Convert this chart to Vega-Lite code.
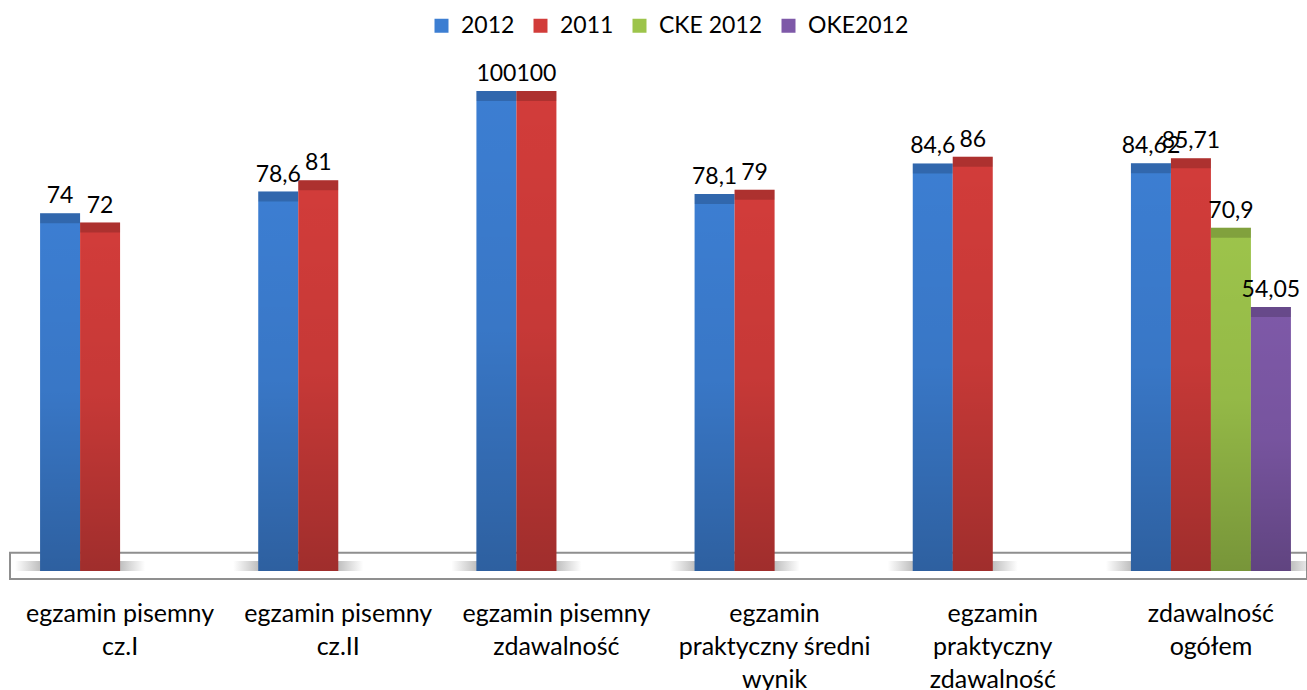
{
  "$schema": "https://vega.github.io/schema/vega-lite/v6.json",
  "width": 1297,
  "height": 470,
  "autosize": {"type": "none"},
  "padding": {"left": 10, "top": 91, "right": 0, "bottom": 129},
  "background": "white",
  "config": {
    "view": {"stroke": null},
    "font": "Lato",
    "locale": {"number": {"decimal": ",", "thousands": " ", "grouping": [3], "currency": ["", " zł"]}}
  },
  "data": {
    "values": [
      {"cat": "egzamin pisemny cz.I", "series": "2012", "value": 74},
      {"cat": "egzamin pisemny cz.I", "series": "2011", "value": 72},
      {"cat": "egzamin pisemny cz.II", "series": "2012", "value": 78.6},
      {"cat": "egzamin pisemny cz.II", "series": "2011", "value": 81},
      {"cat": "egzamin pisemny zdawalność", "series": "2012", "value": 100},
      {"cat": "egzamin pisemny zdawalność", "series": "2011", "value": 100},
      {"cat": "egzamin praktyczny średni wynik", "series": "2012", "value": 78.1},
      {"cat": "egzamin praktyczny średni wynik", "series": "2011", "value": 79},
      {"cat": "egzamin praktyczny zdawalność", "series": "2012", "value": 84.6},
      {"cat": "egzamin praktyczny zdawalność", "series": "2011", "value": 86},
      {"cat": "zdawalność ogółem", "series": "2012", "value": 84.62},
      {"cat": "zdawalność ogółem", "series": "2011", "value": 85.71},
      {"cat": "zdawalność ogółem", "series": "CKE 2012", "value": 70.9},
      {"cat": "zdawalność ogółem", "series": "OKE2012", "value": 54.05}
    ]
  },
  "layer": [
    {
      "data": {"values": [{}]},
      "mark": {"type": "rect", "fill": "white", "stroke": "#8f8f8f", "strokeWidth": 2},
      "encoding": {
        "y": {"datum": 1.77, "type": "quantitative", "scale": {"domain": [0, 100], "zero": false, "nice": false}, "axis": null},
        "y2": {"datum": -3.83}
      }
    },
    {
      "mark": {
        "type": "tick", "orient": "horizontal", "size": 90, "thickness": 10, "yOffset": 5,
        "color": {"gradient": "linear", "x1": 0, "y1": 0, "x2": 1, "y2": 0,
          "stops": [
            {"offset": 0, "color": "rgba(120,120,120,0)"},
            {"offset": 0.35, "color": "rgba(120,120,120,0.85)"},
            {"offset": 0.65, "color": "rgba(120,120,120,0.85)"},
            {"offset": 1, "color": "rgba(120,120,120,0)"}
          ]}
      },
      "encoding": {
        "x": {
          "field": "cat", "type": "nominal", "sort": null,
          "scale": {"range": [1, 1310], "paddingInner": 0.2667, "paddingOuter": 0.1333},
          "axis": {
            "title": null, "domain": false, "ticks": false, "labelAngle": 0,
            "labelFontSize": 25, "labelColor": "black", "labelLineHeight": 33,
            "labelBaseline": "top", "labelPadding": 40, "labelLimit": 300,
            "labelExpr": "datum.label == 'egzamin pisemny cz.I' ? ['egzamin pisemny','cz.I'] : datum.label == 'egzamin pisemny cz.II' ? ['egzamin pisemny','cz.II'] : datum.label == 'egzamin pisemny zdawalność' ? ['egzamin pisemny','zdawalność'] : datum.label == 'egzamin praktyczny średni wynik' ? ['egzamin','praktyczny średni','wynik'] : datum.label == 'egzamin praktyczny zdawalność' ? ['egzamin','praktyczny','zdawalność'] : ['zdawalność','ogółem']"
          }
        },
        "xOffset": {"field": "series", "type": "nominal", "scale": {"domain": ["2012", "2011", "CKE 2012", "OKE2012"]}},
        "y": {"datum": 0, "type": "quantitative"}
      }
    },
    {
      "mark": {"type": "bar", "y2Offset": 10},
      "encoding": {
        "x": {"field": "cat", "type": "nominal", "sort": null},
        "xOffset": {"field": "series", "type": "nominal"},
        "y": {"field": "value", "type": "quantitative"},
        "y2": {"datum": 0},
        "color": {
          "field": "series", "type": "nominal",
          "scale": {"domain": ["2012", "2011", "CKE 2012", "OKE2012"], "range": ["#3c7ed2", "#d23c3a", "#9dc44b", "#7e59a8"]},
          "legend": {
            "title": null, "orient": "none", "direction": "horizontal",
            "legendX": 420, "legendY": -77,
            "symbolType": "square", "symbolSize": 196, "symbolStrokeWidth": 0,
            "labelFontSize": 23, "labelColor": "black", "labelOffset": 8, "columnPadding": 14
          }
        }
      }
    },
    {
      "mark": {
        "type": "bar", "y2Offset": 10,
        "color": {"gradient": "linear", "x1": 0, "y1": 0, "x2": 0, "y2": 1,
          "stops": [
            {"offset": 0, "color": "rgba(0,0,0,0)"},
            {"offset": 0.5, "color": "rgba(0,0,0,0.06)"},
            {"offset": 1, "color": "rgba(0,0,0,0.24)"}
          ]}
      },
      "encoding": {
        "x": {"field": "cat", "type": "nominal", "sort": null},
        "xOffset": {"field": "series", "type": "nominal"},
        "y": {"field": "value", "type": "quantitative"},
        "y2": {"datum": 0}
      }
    },
    {
      "mark": {"type": "tick", "orient": "horizontal", "size": 40, "thickness": 10, "yOffset": 5, "color": "rgba(0,0,0,0.25)"},
      "encoding": {
        "x": {"field": "cat", "type": "nominal", "sort": null},
        "xOffset": {"field": "series", "type": "nominal"},
        "y": {"field": "value", "type": "quantitative"}
      }
    },
    {
      "mark": {"type": "text", "baseline": "alphabetic", "dy": -10, "fontSize": 23, "color": "black"},
      "encoding": {
        "x": {"field": "cat", "type": "nominal", "sort": null},
        "xOffset": {"field": "series", "type": "nominal"},
        "y": {"field": "value", "type": "quantitative"},
        "text": {"field": "value", "type": "quantitative", "format": "~r"}
      }
    }
  ]
}
